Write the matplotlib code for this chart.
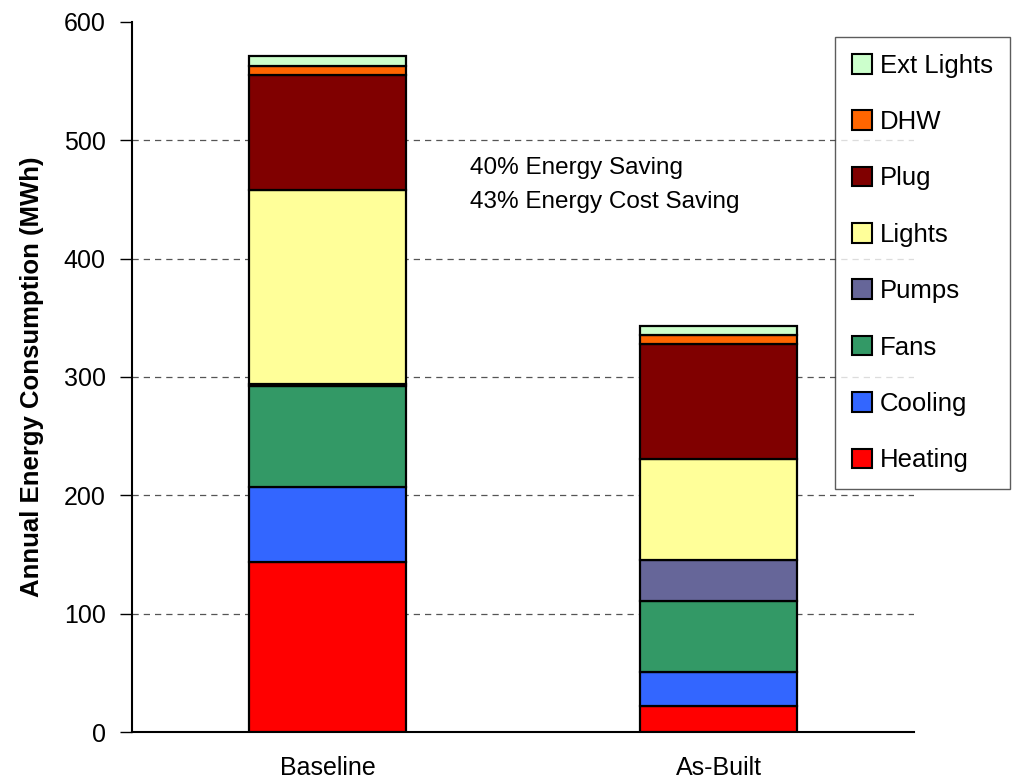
import matplotlib.pyplot as plt
from matplotlib.patches import Patch

plt.rcParams['font.family'] = ['Liberation Sans', 'DejaVu Sans']

# Annual energy use by end use (MWh)
cases = ['Baseline', 'As-Built']
end_uses = ['Heating', 'Cooling', 'Fans', 'Pumps', 'Lights', 'Plug', 'DHW', 'Ext Lights']
baseline = [144, 63, 85, 2, 164, 97, 8, 8]
as_built = [22, 29, 60, 34, 86, 97, 7.5, 7.5]
colors = ['#FF0000', '#3366FF', '#339966', '#666699', '#FFFF99', '#800000', '#FF6600', '#CCFFCC']

fig = plt.figure(figsize=(10.17, 7.84), dpi=100)
ax = fig.add_axes([0.1298, 0.0663, 0.7689, 0.9057])

x = range(len(cases))
bottoms = [0.0, 0.0]
for i, use in enumerate(end_uses):
    vals = [baseline[i], as_built[i]]
    ax.bar(x, vals, width=0.4, bottom=bottoms, color=colors[i],
           edgecolor='black', linewidth=1.6, zorder=3)
    bottoms = [b + v for b, v in zip(bottoms, vals)]

ax.set_xlim(-0.5, 1.5)
ax.set_ylim(0, 600)
ax.set_yticks(range(0, 601, 100))
ax.set_xticks(list(x))
ax.set_xticklabels(cases, fontsize=18)
ax.tick_params(axis='y', labelsize=18, length=9, width=1, pad=10)
ax.tick_params(axis='x', length=0, pad=17)
for y in range(100, 600, 100):
    ax.axhline(y, color='#555555', linestyle=(0, (5, 4)), linewidth=0.9, zorder=1)

ax.spines['top'].set_visible(False)
ax.spines['right'].set_visible(False)
ax.spines['left'].set_linewidth(1.5)
ax.spines['bottom'].set_linewidth(1.5)

ax.set_ylabel('Annual Energy Consumption (MWh)', fontsize=18.5, fontweight='bold', labelpad=14)

ax.text(0.432, 0.810, '40% Energy Saving\n43% Energy Cost Saving', transform=ax.transAxes,
        fontsize=17.5, va='top', ha='left', linespacing=1.72)

handles = [Patch(facecolor=c, edgecolor='black', linewidth=1.5, label=u)
           for c, u in zip(colors, end_uses)][::-1]
leg = fig.legend(handles=handles, loc='upper left', bbox_to_anchor=(835 / 1017, 1 - 37 / 784),
                 fontsize=18.5, frameon=True, fancybox=False, edgecolor='#333333',
                 handlelength=0.8, handleheight=0.8, handletextpad=0.3,
                 labelspacing=1.26, borderpad=0.65, borderaxespad=0)
leg.get_frame().set_linewidth(1.0)

fig.savefig('out.png', dpi=100)
